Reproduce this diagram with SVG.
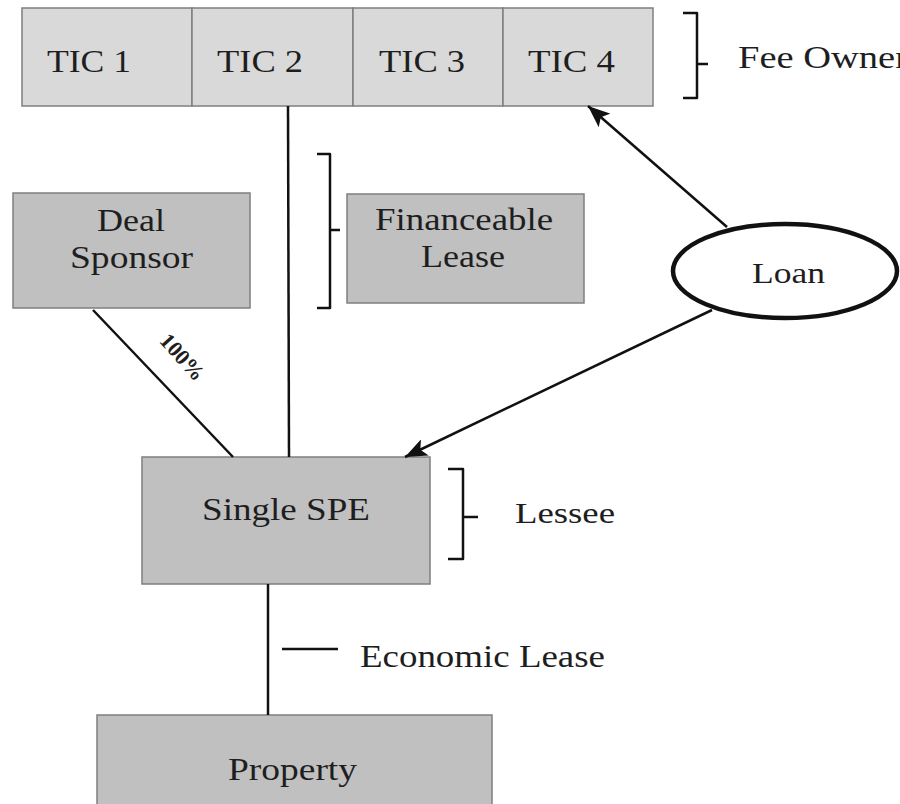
<svg xmlns="http://www.w3.org/2000/svg" width="900" height="804" viewBox="0 0 900 804">
<defs>
<style>
.tic{fill:#d9d9d9;stroke:#7f7f7f;stroke-width:1.5}
.box{fill:#c0c0c0;stroke:#7f7f7f;stroke-width:1.5}
text{font-family:'Liberation Serif',serif;font-size:32px;fill:#1e1e1e}
.ln{stroke:#111;stroke-width:2.5;fill:none}
.br{stroke:#111;stroke-width:2.5;fill:none;stroke-linejoin:round}
</style>
<marker id="ah" markerUnits="userSpaceOnUse" markerWidth="24" markerHeight="18" refX="22" refY="9" orient="auto">
<path d="M0,0 L22,9 L0,18 L5,9 Z" fill="#111"/>
</marker>
</defs>
<rect width="900" height="804" fill="#fff"/>

<g id="fee-owners" font-family="Liberation Serif">
<g id="tic1"><rect class="tic" x="22" y="8" width="170" height="98"/><text x="47" y="72" textLength="84" lengthAdjust="spacingAndGlyphs">TIC 1</text></g>
<g id="tic2"><rect class="tic" x="192" y="8" width="161" height="98"/><text x="217" y="72" textLength="86" lengthAdjust="spacingAndGlyphs">TIC 2</text></g>
<g id="tic3"><rect class="tic" x="353" y="8" width="150" height="98"/><text x="379" y="72" textLength="86" lengthAdjust="spacingAndGlyphs">TIC 3</text></g>
<g id="tic4"><rect class="tic" x="503" y="8" width="150" height="98"/><text x="528" y="72" textLength="87" lengthAdjust="spacingAndGlyphs">TIC 4</text></g>
</g>

<g id="fee-owner-label">
<path class="br" d="M683,13 H697 V98 H683 M697,64 H708"/>
<text x="738" y="68" textLength="170" lengthAdjust="spacingAndGlyphs">Fee Owner</text>
</g>

<g id="deal-sponsor">
<rect class="box" x="13" y="193" width="237" height="115"/>
<text x="97" y="231" textLength="68" lengthAdjust="spacingAndGlyphs">Deal</text>
<text x="70" y="268" textLength="123" lengthAdjust="spacingAndGlyphs">Sponsor</text>
</g>

<g id="financeable-lease">
<rect class="box" x="347" y="194" width="237" height="109"/>
<text x="375" y="230" textLength="178" lengthAdjust="spacingAndGlyphs">Financeable</text>
<text x="421" y="267" textLength="84" lengthAdjust="spacingAndGlyphs">Lease</text>
<path class="br" d="M317,154 H330 V308 H317 M330,230 H340"/>
</g>

<g id="loan">
<ellipse cx="785" cy="271" rx="112" ry="47" fill="#fff" stroke="#111" stroke-width="4.5"/>
<text x="752" y="283" style="font-size:30px" textLength="73" lengthAdjust="spacingAndGlyphs">Loan</text>
</g>

<g id="single-spe">
<rect class="box" x="142" y="457" width="288" height="127"/>
<text x="202" y="520" textLength="168" lengthAdjust="spacingAndGlyphs">Single SPE</text>
</g>

<g id="lessee-label">
<path class="br" d="M448,469 H463 V559 H448 M463,517 H478"/>
<text x="515" y="523" style="font-size:30px" textLength="100" lengthAdjust="spacingAndGlyphs">Lessee</text>
</g>

<g id="property">
<rect class="box" x="97" y="715" width="395" height="100"/>
<text x="228" y="780" textLength="129" lengthAdjust="spacingAndGlyphs">Property</text>
</g>

<g id="connectors">
<line class="ln" x1="288" y1="106" x2="289" y2="457"/>
<line class="ln" x1="93" y1="310" x2="233" y2="457"/>
<text transform="translate(177,362) rotate(48)" text-anchor="middle" style="font-size:22px;font-weight:bold">100%</text>
<line class="ln" x1="727" y1="227" x2="588" y2="106" marker-end="url(#ah)"/>
<line class="ln" x1="712" y1="310" x2="405" y2="457" marker-end="url(#ah)"/>
<line class="ln" x1="268" y1="584" x2="268" y2="715"/>
<line class="ln" x1="282" y1="649" x2="338" y2="649"/>
<text x="360" y="667" style="font-size:31px" textLength="245" lengthAdjust="spacingAndGlyphs">Economic Lease</text>
</g>
</svg>
